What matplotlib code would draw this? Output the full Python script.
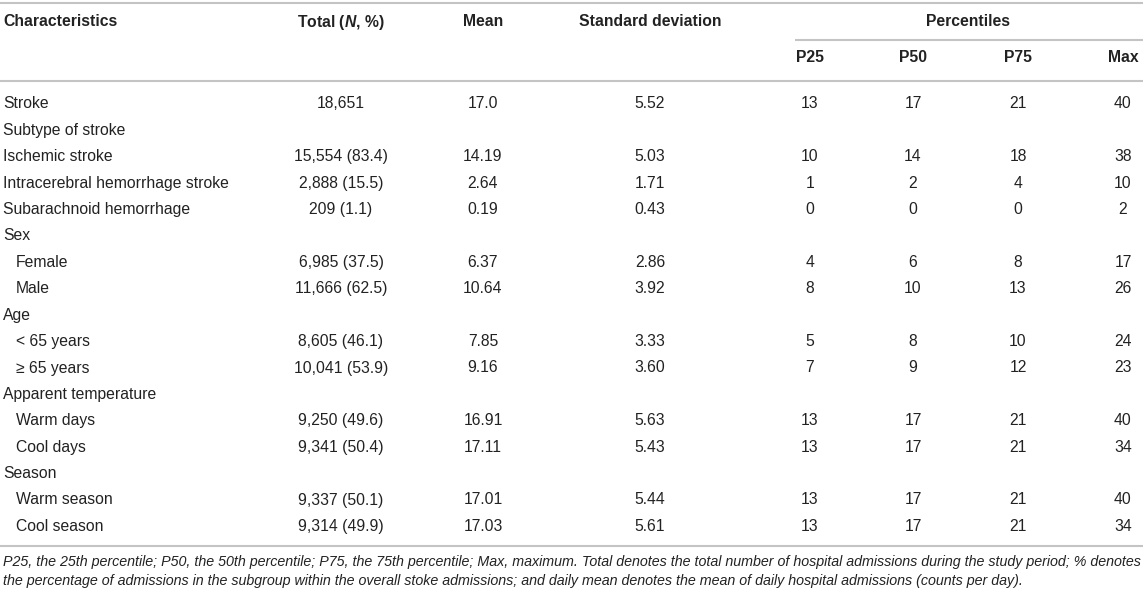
import matplotlib
matplotlib.use("Agg")
import matplotlib.pyplot as plt

plt.rcParams['font.family'] = ['Liberation Sans', 'DejaVu Sans']
plt.rcParams['mathtext.fontset'] = 'custom'
plt.rcParams['mathtext.it'] = 'Liberation Sans:italic:bold'

# table data
columns = ["Characteristics", r"Total ($\it{N}$, %)", "Mean", "Standard deviation"]
pct_columns = ["P25", "P50", "P75", "Max"]

labels = ["Stroke", "Subtype of stroke", "Ischemic stroke",
          "Intracerebral hemorrhage stroke", "Subarachnoid hemorrhage",
          "Sex", "Female", "Male", "Age", "< 65 years", "\u2265 65 years",
          "Apparent temperature", "Warm days", "Cool days",
          "Season", "Warm season", "Cool season"]
indented = [False, False, False, False, False,
            False, True, True, False, True, True,
            False, True, True, False, True, True]
totals = ["18,651", "", "15,554 (83.4)", "2,888 (15.5)", "209 (1.1)",
          "", "6,985 (37.5)", "11,666 (62.5)", "", "8,605 (46.1)", "10,041 (53.9)",
          "", "9,250 (49.6)", "9,341 (50.4)", "", "9,337 (50.1)", "9,314 (49.9)"]
means = ["17.0", "", "14.19", "2.64", "0.19",
         "", "6.37", "10.64", "", "7.85", "9.16",
         "", "16.91", "17.11", "", "17.01", "17.03"]
sds = ["5.52", "", "5.03", "1.71", "0.43",
       "", "2.86", "3.92", "", "3.33", "3.60",
       "", "5.63", "5.43", "", "5.44", "5.61"]
p25 = [13, None, 10, 1, 0, None, 4, 8, None, 5, 7, None, 13, 13, None, 13, 13]
p50 = [17, None, 14, 2, 0, None, 6, 10, None, 8, 9, None, 17, 17, None, 17, 17]
p75 = [21, None, 18, 4, 0, None, 8, 13, None, 10, 12, None, 21, 21, None, 21, 21]
pmax = [40, None, 38, 10, 2, None, 17, 26, None, 24, 23, None, 40, 34, None, 40, 34]

footnote = [
    "P25, the 25th percentile; P50, the 50th percentile; P75, the 75th percentile; "
    "Max, maximum. Total denotes the total number of hospital admissions during the "
    "study period; % denotes",
    "the percentage of admissions in the subgroup within the overall stoke admissions; "
    "and daily mean denotes the mean of daily hospital admissions (counts per day).",
]

W, H = 1143, 594
fig = plt.figure(figsize=(W / 100, H / 100), dpi=100)
ax = fig.add_axes([0, 0, 1, 1])
ax.set_xlim(0, W)
ax.set_ylim(H, 0)
ax.axis('off')

txt = '#222222'
rule = '#c4c4c4'
fs = 11.3

# column layout (pixels)
col_x = [3, 341, 483, 650]
pct_x = [810, 913, 1018, 1123]
row0, dy = 104, 26.4

# rules
for y in (3, 81, 546):
    ax.plot([0, W], [y, y], color=rule, lw=1.5, solid_capstyle='butt')
ax.plot([795, W], [40, 40], color=rule, lw=1.5, solid_capstyle='butt')

# header
ax.text(col_x[0], 22, columns[0], ha='left', va='center', fontsize=fs,
        fontweight='bold', color=txt)
for x, name in zip(col_x[1:], columns[1:]):
    ax.text(x, 22, name, ha='center', va='center', fontsize=fs,
            fontweight='bold', color=txt)
ax.text(968, 22, "Percentiles", ha='center', va='center', fontsize=fs,
        fontweight='bold', color=txt)
for x, name in zip(pct_x, pct_columns):
    ax.text(x, 57, name, ha='center', va='center', fontsize=fs,
            fontweight='bold', color=txt)

# body
for i, lab in enumerate(labels):
    y = row0 + i * dy
    x0 = col_x[0] + (13 if indented[i] else 0)
    ax.text(x0, y, lab, ha='left', va='center', fontsize=fs, color=txt)
    for x, val in zip(col_x[1:], (totals[i], means[i], sds[i])):
        ax.text(x, y, val, ha='center', va='center', fontsize=fs, color=txt)
    for x, series in zip(pct_x, (p25, p50, p75, pmax)):
        if series[i] is not None:
            ax.text(x, y, str(series[i]), ha='center', va='center',
                    fontsize=fs, color=txt)

# footnote
for j, line in enumerate(footnote):
    ax.text(3, 562 + j * 19, line, ha='left', va='center', fontsize=10.3,
            style='italic', color=txt)

fig.savefig('out.png', dpi=100)
